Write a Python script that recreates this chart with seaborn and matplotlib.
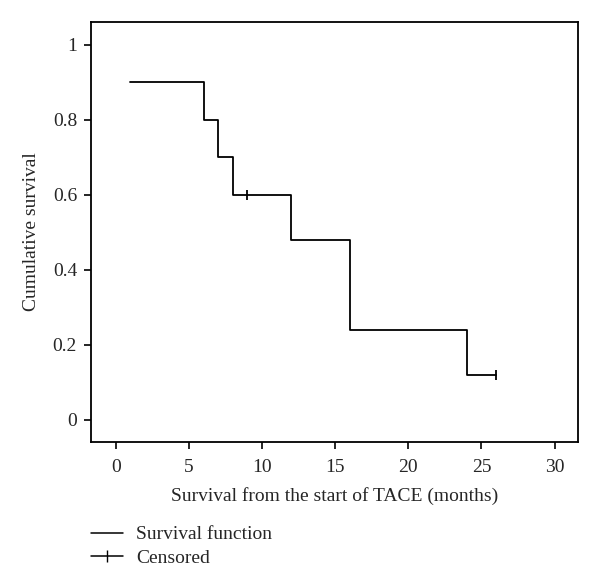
import numpy as np
import pandas as pd
import matplotlib
matplotlib.use('Agg')
import matplotlib.pyplot as plt
from matplotlib.lines import Line2D
import seaborn as sns

# Kaplan-Meier estimate
times = [1, 6, 7, 8, 12, 16, 24, 26]
survival = [0.9, 0.8, 0.7, 0.6, 0.48, 0.24, 0.12, 0.12]
censored_times = [9, 26]
censored_surv = [0.6, 0.12]

x_ticks = [0, 5, 10, 15, 20, 25, 30]
y_ticks = [0, 0.2, 0.4, 0.6, 0.8, 1]
y_labels = ['0', '0.2', '0.4', '0.6', '0.8', '1']

sns.set_style('white')
plt.rcParams['font.family'] = ['Liberation Serif', 'DejaVu Serif']

km = pd.DataFrame({'time': times, 'surv': survival})
cens = pd.DataFrame({'time': censored_times, 'surv': censored_surv})

fig = plt.figure(figsize=(6.0, 5.85), dpi=100)
ax = fig.add_axes([91 / 600, 1 - 442 / 585, (578 - 91) / 600, (442 - 22) / 585])

sns.lineplot(data=km, x='time', y='surv', ax=ax, color='black', lw=1.3,
             drawstyle='steps-post', estimator=None)
sns.scatterplot(data=cens, x='time', y='surv', ax=ax, color='black',
                marker='|', s=60, linewidth=1.3, zorder=3)

ax.set_xlim(-1.7, 31.6)
ax.set_ylim(-0.06, 1.06)
ax.set_xticks(x_ticks)
ax.set_yticks(y_ticks)
ax.set_yticklabels(y_labels)
ax.tick_params(axis='both', direction='out', length=5, width=1.2,
               labelsize=14, color='black', bottom=True, left=True)
ax.tick_params(axis='x', pad=7)
ax.tick_params(axis='y', pad=5)
for side in ax.spines.values():
    side.set_color('black')
    side.set_linewidth(1.3)

ax.set_xlabel('Survival from the start of TACE (months)', fontsize=14, labelpad=8)
ax.set_ylabel('Cumulative survival', fontsize=14, labelpad=9.5)

handles = [
    Line2D([], [], color='black', lw=1.1),
    Line2D([], [], color='black', lw=1.1, marker='|', markersize=8),
]
fig.legend(handles, ['Survival function', 'Censored'], loc='upper left',
           bbox_to_anchor=(83 / 600, 1 - 518 / 585), frameon=False,
           fontsize=14, handlelength=1.65, handletextpad=0.7,
           labelspacing=0.3, borderaxespad=0)

fig.savefig('out.png', dpi=100)
